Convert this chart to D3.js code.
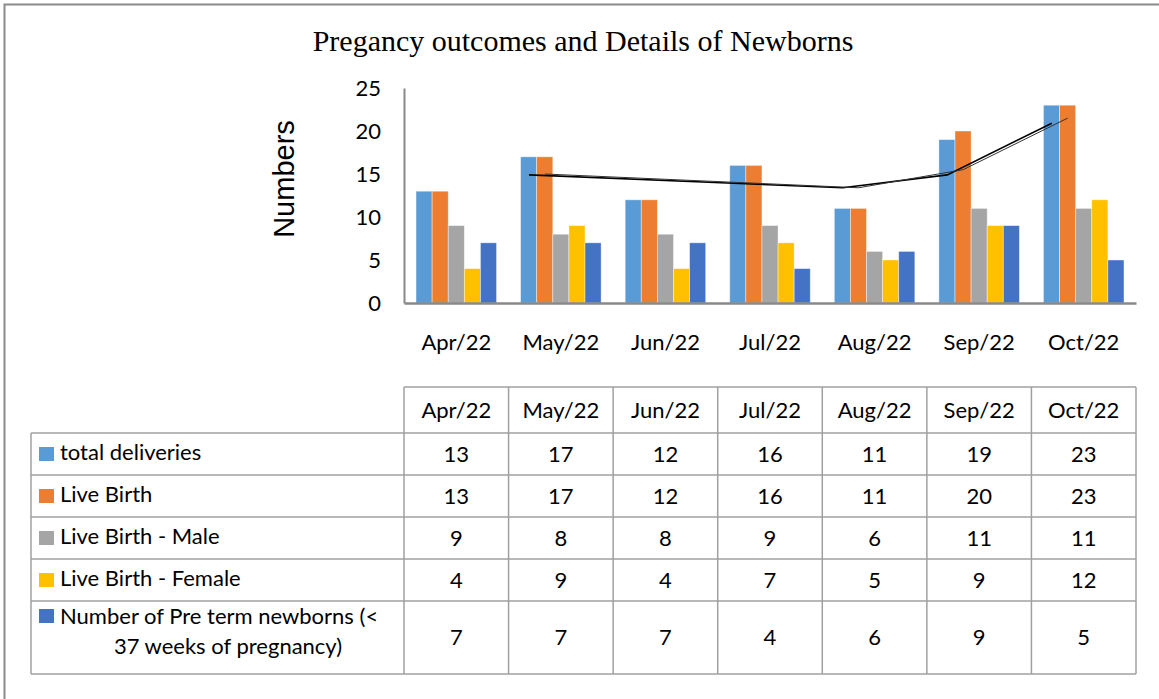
<!DOCTYPE html>
<html>
<head>
<meta charset="utf-8">
<script src="https://cdn.jsdelivr.net/npm/d3@7/dist/d3.min.js"></script>
<style>
  body { margin: 0; background: #fff; }
  svg { display: block; }
</style>
</head>
<body>
<div id="vis"></div>
<script>
// data
const months = ["Apr/22", "May/22", "Jun/22", "Jul/22", "Aug/22", "Sep/22", "Oct/22"];
const seriesNames = [
  "total deliveries",
  "Live Birth",
  "Live Birth - Male",
  "Live Birth - Female",
  "Number of Pre term newborns (< 37 weeks of pregnancy)"
];
const totalDeliveries = [13, 17, 12, 16, 11, 19, 23];
const liveBirth = [13, 17, 12, 16, 11, 20, 23];
const liveBirthMale = [9, 8, 8, 9, 6, 11, 11];
const liveBirthFemale = [4, 9, 4, 7, 5, 9, 12];
const preTerm = [7, 7, 7, 4, 6, 9, 5];
const yTicks = [0, 5, 10, 15, 20, 25];

// hand drawn trend line (two strokes) over the bars
const trendMonths = ["May/22", "Aug/22", "Sep/22", "Oct/22"];
const trendA = [14.9, 13.4, 14.9, 20.9];
const trendB = [15.0, 13.4, 15.5, 21.5];

const seriesValues = [totalDeliveries, liveBirth, liveBirthMale, liveBirthFemale, preTerm];
const colors = ["#5B9BD5", "#ED7D31", "#A5A5A5", "#FFC000", "#4472C4"];

const W = 1159, H = 699;
const plot = { left: 404, right: 1136, top: 88, bottom: 303 };
const sansCal = "Lato, 'Open Sans', sans-serif";

const svg = d3.select('#vis').append('svg')
  .attr('width', W)
  .attr('height', H);

// outer frame (only top and left edges are visible)
svg.append('path')
  .attr('d', 'M4.5,' + H + 'V4.5H' + W)
  .attr('fill', 'none')
  .attr('stroke', '#8a8a8a')
  .attr('stroke-width', 2);

// title
svg.append('text')
  .attr('x', 583)
  .attr('y', 51)
  .attr('text-anchor', 'middle')
  .style('font-family', "'Liberation Serif', 'Times New Roman', serif")
  .style('font-size', '30px')
  .text('Pregancy outcomes and Details of Newborns');

const x = d3.scaleBand()
  .domain(months)
  .range([plot.left, plot.right])
  .paddingInner(0.23)
  .paddingOuter(0.115);

const xs = d3.scaleBand()
  .domain(d3.range(seriesValues.length))
  .range([0, x.bandwidth()]);

const y = d3.scaleLinear()
  .domain([0, 25])
  .range([plot.bottom, plot.top]);

// bars
const groups = svg.append('g')
  .selectAll('g')
  .data(months)
  .join('g')
  .attr('transform', d => 'translate(' + x(d) + ',0)');

groups.selectAll('rect')
  .data((m, i) => seriesValues.map((vals, s) => ({ s: s, v: vals[i] })))
  .join('rect')
  .attr('x', d => xs(d.s))
  .attr('y', d => y(d.v))
  .attr('width', xs.bandwidth())
  .attr('height', d => y(0) - y(d.v))
  .attr('fill', d => colors[d.s])
  .attr('stroke', '#fff')
  .attr('stroke-opacity', 0.5)
  .attr('stroke-width', 0.8);

// y axis
const yAxis = svg.append('g')
  .attr('transform', 'translate(' + plot.left + ',0)')
  .call(d3.axisLeft(y).tickValues(yTicks).tickSize(0).tickPadding(23));
yAxis.select('.domain').attr('stroke', '#898989').attr('stroke-width', 2);
yAxis.selectAll('text')
  .style('font-family', sansCal)
  .style('font-size', '22px')
  .attr('fill', '#000');

// x axis
const xAxis = svg.append('g')
  .attr('transform', 'translate(0,' + plot.bottom + ')')
  .call(d3.axisBottom(x).tickSize(0).tickPadding(31));
xAxis.select('.domain').attr('stroke', '#898989').attr('stroke-width', 2.5);
xAxis.selectAll('text')
  .style('font-family', sansCal)
  .style('font-size', '22px')
  .attr('fill', '#000');

// y axis title
svg.append('text')
  .attr('transform', 'translate(294,179) rotate(-90)')
  .attr('text-anchor', 'middle')
  .style('font-family', "'Liberation Sans', Arial, sans-serif")
  .style('font-size', '29px')
  .text('Numbers');

// trend strokes
const step = x.step();
function trendLine(vals, shift) {
  return d3.line()
    .x((d, i) => x(trendMonths[i]) + x.bandwidth() / 2 + shift * step)
    .y(d => y(d))(vals);
}
svg.append('path')
  .attr('d', trendLine(trendA, -0.305))
  .attr('fill', 'none')
  .attr('stroke', '#000')
  .attr('stroke-width', 1.6);
svg.append('path')
  .attr('d', trendLine(trendB, -0.153))
  .attr('fill', 'none')
  .attr('stroke', '#333')
  .attr('stroke-width', 1);

// data table
const tbl = { left: 31, colStart: x(months[0]) - x.step() * 0.115, top: 387, header: 46, row: 42, lastRow: 73 };
const rowTops = [tbl.top + tbl.header];
for (let i = 1; i < seriesNames.length; i++) rowTops.push(rowTops[i - 1] + tbl.row);
const tblBottom = rowTops[rowTops.length - 1] + tbl.lastRow;
const colEdges = months.map((m, i) => tbl.colStart + i * step).concat([tbl.colStart + months.length * step]);
const gridColor = '#a0a0a0';

const grid = svg.append('g')
  .attr('fill', 'none')
  .attr('stroke', gridColor)
  .attr('stroke-width', 1.5);

// header top
grid.append('line')
  .attr('x1', colEdges[0]).attr('x2', colEdges[colEdges.length - 1])
  .attr('y1', tbl.top).attr('y2', tbl.top);
// row lines
rowTops.concat([tblBottom]).forEach(yy => {
  grid.append('line')
    .attr('x1', tbl.left).attr('x2', colEdges[colEdges.length - 1])
    .attr('y1', yy).attr('y2', yy);
});
// left edge
grid.append('line')
  .attr('x1', tbl.left).attr('x2', tbl.left)
  .attr('y1', rowTops[0]).attr('y2', tblBottom);
// column lines
colEdges.forEach(xx => {
  grid.append('line')
    .attr('x1', xx).attr('x2', xx)
    .attr('y1', tbl.top).attr('y2', tblBottom);
});

// header labels
svg.append('g')
  .selectAll('text')
  .data(months)
  .join('text')
  .attr('x', d => x(d) + x.bandwidth() / 2)
  .attr('y', tbl.top + tbl.header / 2)
  .attr('dy', '0.35em')
  .attr('text-anchor', 'middle')
  .style('font-family', sansCal)
  .style('font-size', '22px')
  .text(d => d);

// rows
seriesNames.forEach((name, s) => {
  const h = s === seriesNames.length - 1 ? tbl.lastRow : tbl.row;
  const cy = rowTops[s] + h / 2;
  const g = svg.append('g');
  const last = s === seriesNames.length - 1;
  const swatchY = last ? rowTops[s] + 8 : cy - 7;
  g.append('rect')
    .attr('x', 39).attr('y', swatchY)
    .attr('width', 15).attr('height', 14)
    .attr('fill', colors[s]);
  if (last) {
    g.append('text')
      .attr('x', 60).attr('y', rowTops[s] + 23)
      .style('font-family', sansCal).style('font-size', '22px')
      .text('Number of Pre term newborns (<');
    g.append('text')
      .attr('x', 228).attr('y', rowTops[s] + 53)
      .attr('text-anchor', 'middle')
      .style('font-family', sansCal).style('font-size', '22px')
      .text('37 weeks of pregnancy)');
  } else {
    g.append('text')
      .attr('x', 60).attr('y', cy - 2)
      .attr('dy', '0.35em')
      .style('font-family', sansCal).style('font-size', '22px')
      .text(name);
  }
  g.selectAll('text.val')
    .data(seriesValues[s])
    .join('text')
    .attr('class', 'val')
    .attr('x', (d, i) => x(months[i]) + x.bandwidth() / 2)
    .attr('y', cy)
    .attr('dy', '0.35em')
    .attr('text-anchor', 'middle')
    .style('font-family', sansCal)
    .style('font-size', '22px')
    .text(d => d);
});
</script>
</body>
</html>
